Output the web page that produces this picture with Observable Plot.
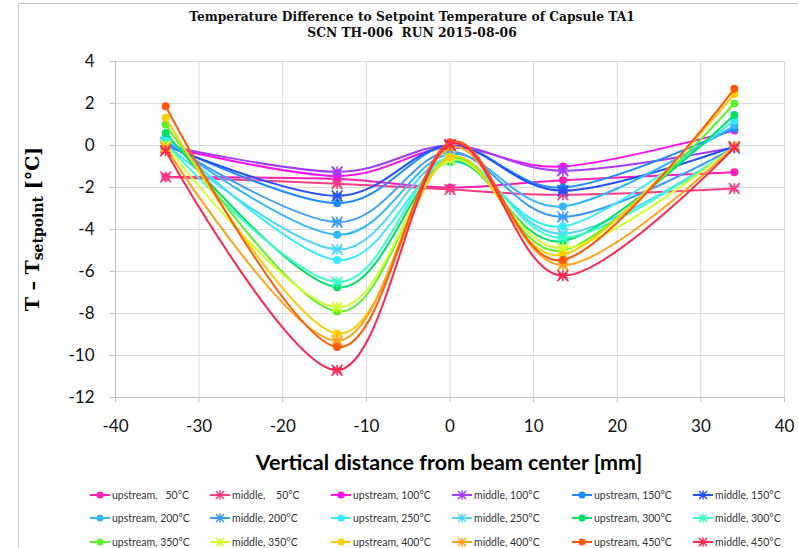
<!DOCTYPE html>
<html><head><meta charset="utf-8">
<script src="https://cdn.jsdelivr.net/npm/d3@7"></script>
<script src="https://cdn.jsdelivr.net/npm/@observablehq/plot@0.6"></script>
<style>
body{margin:0;background:#fff;}
#wrap{position:relative;width:798px;height:548px;overflow:hidden;background:#fff;}
#frame{position:absolute;left:18px;top:3px;width:900px;height:700px;border-left:1px solid #c8c8c8;border-top:1px solid #c8c8c8;}
#title{position:absolute;left:412px;top:9px;transform:translateX(-50%);text-align:center;font-family:"DejaVu Serif",serif;font-weight:bold;font-size:12.3px;line-height:16px;white-space:nowrap;color:#111;}
#plot{position:absolute;left:0;top:0;}
#ylab{position:absolute;left:33px;top:229px;transform:translate(-50%,-50%) rotate(-90deg);font-family:"DejaVu Serif",serif;font-weight:bold;font-size:19px;white-space:nowrap;color:#000;}
#ylab sub{font-size:14px;vertical-align:-4px;}
#xlab{position:absolute;left:449px;top:449px;transform:translateX(-50%);font-family:Lato,sans-serif;font-weight:bold;font-size:21.5px;white-space:nowrap;color:#000;}
.leg{position:absolute;display:flex;align-items:center;font-family:Lato,sans-serif;font-size:10.5px;color:#333;white-space:pre;}
.leg svg{margin-right:1px;}
</style></head><body>
<div id="wrap">
<div id="frame"></div>
<div id="plot"></div>
<div id="title">Temperature Difference to Setpoint Temperature of Capsule TA1<br>SCN TH-006&nbsp;&nbsp;RUN 2015-08-06</div>
<div id="ylab">T – T<sub>setpoint</sub> [°C]</div>
<div id="xlab">Vertical distance from beam center [mm]</div>
<div id="legend"></div>
</div>
<script>
// Positions of the thermocouples (mm)
const xPos = [-34, -13.5, 0, 13.5, 34];
const xTicks = [-40, -30, -20, -10, 0, 10, 20, 30, 40];
const yTicks = [-12, -10, -8, -6, -4, -2, 0, 2, 4];

// T - Tsetpoint values, one array per series
const up50  = [-1.5, -1.6, -2.0, -1.65, -1.27];
const mid50 = [-1.5, -1.82, -2.1, -2.35, -2.05];
const up100 = [-0.05, -1.45, -0.1, -1.0, 0.72];
const mid100 = [0.0, -1.25, 0.0, -1.2, -0.1];
const up150 = [0.1, -2.75, 0.0, -2.0, 0.8];
const mid150 = [0.0, -2.4, 0.0, -2.15, -0.05];
const up200 = [0.25, -4.25, -0.4, -2.9, 0.95];
const mid200 = [0.15, -3.65, -0.3, -3.4, -0.1];
const up250 = [0.45, -5.45, -0.8, -3.85, 1.2];
const mid250 = [0.05, -4.95, -0.6, -4.2, -0.15];
const up300 = [0.6, -6.75, -0.75, -4.55, 1.45];
const mid300 = [0.1, -6.5, -0.55, -4.4, -0.1];
const up350 = [1.0, -7.9, -0.6, -5.0, 2.0];
const mid350 = [0.0, -7.7, -0.7, -4.9, -0.05];
const up400 = [1.32, -8.95, -0.55, -5.2, 2.45];
const mid400 = [-0.1, -9.3, -0.1, -5.7, -0.05];
const up450 = [1.87, -9.6, 0.15, -5.45, 2.7];
const mid450 = [-0.25, -10.7, 0.05, -6.2, -0.1];

const seriesNames = [
  "upstream,   50°C", "middle,    50°C", "upstream, 100°C", "middle, 100°C",
  "upstream, 150°C", "middle, 150°C", "upstream, 200°C", "middle, 200°C",
  "upstream, 250°C", "middle, 250°C", "upstream, 300°C", "middle, 300°C",
  "upstream, 350°C", "middle, 350°C", "upstream, 400°C", "middle, 400°C",
  "upstream, 450°C", "middle, 450°C"
];
const seriesValues = [up50, mid50, up100, mid100, up150, mid150, up200, mid200,
  up250, mid250, up300, mid300, up350, mid350, up400, mid400, up450, mid450];
const seriesColors = [
  "#ff1fb4", "#ff3d86", "#ff10f0", "#a43cff",
  "#1e8cff", "#2452ff", "#35b6ff", "#3d9cff",
  "#33ecff", "#52d6ff", "#00e063", "#3dffc8",
  "#5cf22e", "#d2ff2e", "#ffcc00", "#ffa31a",
  "#ff5a0a", "#ff2650"
];

const marks = [
  Plot.gridX(xTicks, {stroke: "#d9d9d9", strokeOpacity: 1}),
  Plot.gridY(yTicks, {stroke: "#d9d9d9", strokeOpacity: 1}),
  Plot.axisX(xTicks, {tickSize: 5, tickPadding: 17, stroke: "#bfbfbf", tickFormat: d => String(d), label: null, fontSize: 17}),
  Plot.axisY(yTicks, {tickSize: 5, tickPadding: 16, stroke: "#bfbfbf", tickFormat: d => String(d), label: null, fontSize: 17}),
  Plot.ruleX([-40], {stroke: "#bfbfbf"}),
  Plot.ruleY([-12], {stroke: "#bfbfbf"})
];

seriesNames.forEach((name, i) => {
  const data = xPos.map((x, j) => ({x, y: seriesValues[i][j]}));
  const color = seriesColors[i];
  marks.push(Plot.line(data, {x: "x", y: "y", stroke: color, strokeWidth: 2, curve: "cardinal"}));
  if (name.startsWith("upstream")) {
    marks.push(Plot.dot(data, {x: "x", y: "y", fill: color, r: 4, symbol: "circle"}));
  } else {
    marks.push(Plot.dot(data, {x: "x", y: "y", stroke: color, strokeWidth: 1.6, r: 5, symbol: "asterisk"}));
    marks.push(Plot.dot(data, {x: "x", y: "y", stroke: color, strokeWidth: 1.6, r: 5, symbol: "times"}));
  }
});

const chart = Plot.plot({
  width: 798, height: 470,
  marginLeft: 115, marginRight: 14, marginTop: 61, marginBottom: 73,
  x: {domain: [-40, 40]},
  y: {domain: [-12, 4]},
  style: {fontFamily: "Lato, sans-serif", fontSize: "17px", color: "#111", background: "transparent"},
  marks
});
document.getElementById("plot").appendChild(chart);

// Legend
const colX = [90, 210, 331, 452, 572, 693];
const rowY = [495, 518, 542];
const legend = document.getElementById("legend");
seriesNames.forEach((name, i) => {
  const col = i % 6, row = Math.floor(i / 6);
  const div = document.createElement("div");
  div.className = "leg";
  div.style.left = colX[col] + "px";
  div.style.top = (rowY[row] - 7) + "px";
  const c = seriesColors[i];
  const mk = name.startsWith("upstream")
    ? `<circle cx="10" cy="7" r="3.6" fill="${c}"/>`
    : `<path d="M6,3L14,11M14,3L6,11M10,2.5V11.5M5.5,7H14.5" stroke="${c}" stroke-width="1.5"/>`;
  div.innerHTML = `<svg width="21" height="14"><line x1="0" y1="7" x2="20" y2="7" stroke="${c}" stroke-width="2"/>${mk}</svg><span>${name}</span>`;
  legend.appendChild(div);
});
</script>
</body></html>
